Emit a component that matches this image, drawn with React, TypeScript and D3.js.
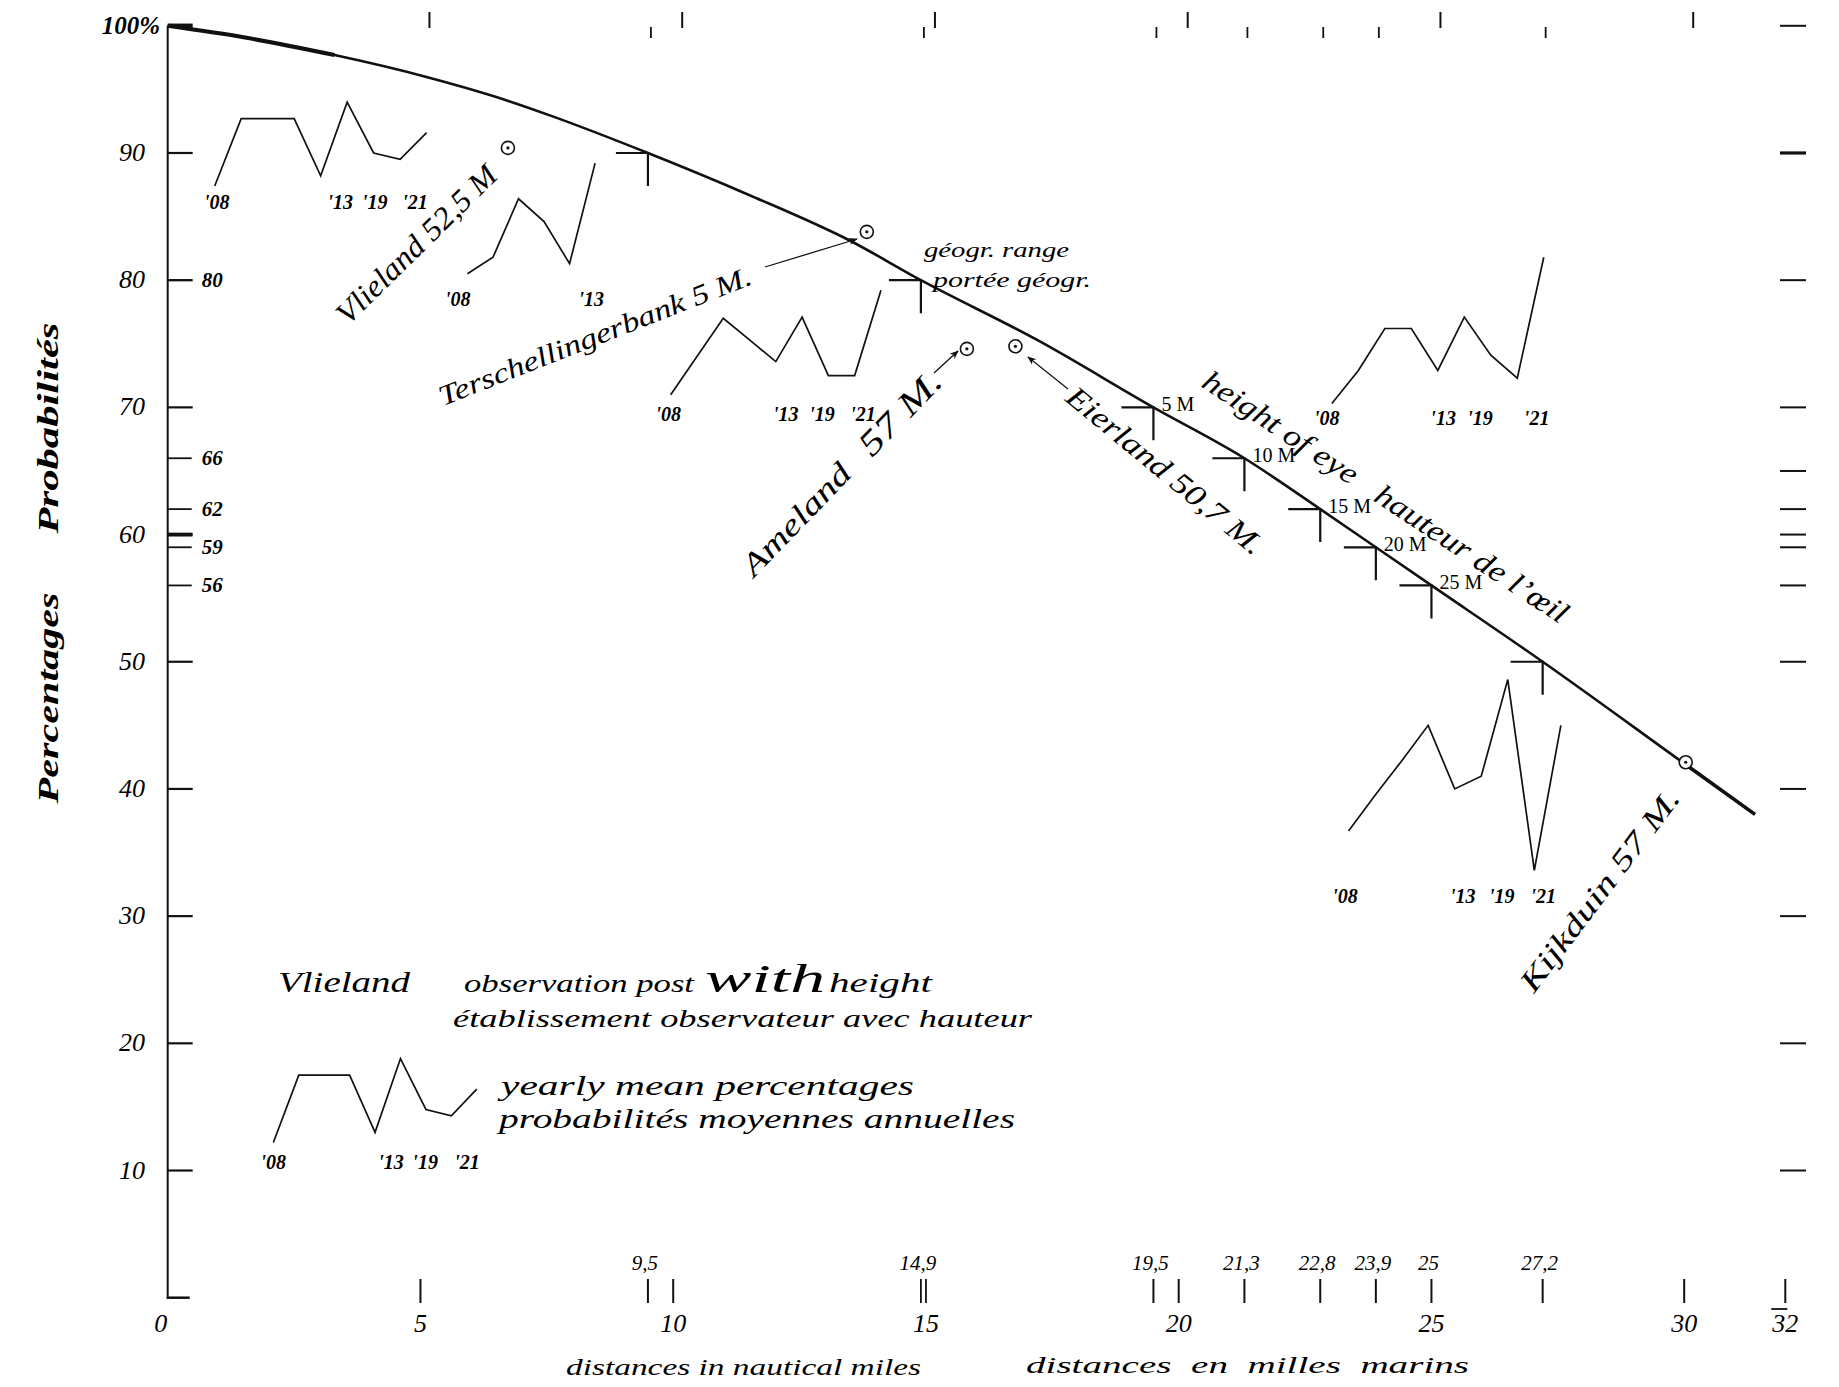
import React from 'react';
import * as d3 from 'd3';

const W = 1839;
const H = 1387;

// ---- main probability curve (distance in nautical miles -> percentage) ----
const curveDistances = [0, 1.5, 3.3, 5.1, 6.5, 7.6, 9.5, 11.5, 13.5, 14.9, 17.2, 19.5, 21.3, 22.8, 23.9, 25, 27.2, 30, 31.4];
const curvePercents = [100, 99.1, 97.7, 96.0, 94.4, 92.9, 90, 86.7, 83.1, 80, 75.3, 70, 66, 62, 59, 56, 50, 42, 38];

// ---- range markers on the curve (height of eye) ----
const markerDistances = [9.5, 14.9, 19.5, 21.3, 22.8, 23.9, 25, 27.2];
const markerPercents = [90, 80, 70, 66, 62, 59, 56, 50];
const markerLabels = ['', '', '5 M', '10 M', '15 M', '20 M', '25 M', ''];

// ---- stations (observation posts) ----
const stationDistances = [6.73, 13.83, 15.81, 16.77, 30.03];
const stationPercents = [90.4, 83.8, 74.6, 74.8, 42.1];

// ---- yearly mean percentages ----
const yearLabels = ["'08", "'13", "'19", "'21"];
const vlielandMeans = [87.4, 92.7, 92.7, 92.7, 88.2, 94.0, 90.0, 89.5, 91.6];
const terschellingerbankMeans = [80.5, 81.8, 86.4, 84.6, 81.3, 89.2];
const amelandMeans = [71.0, 74.0, 77.0, 75.3, 73.6, 77.1, 72.5, 72.5, 79.2];
const eierlandMeans = [70.3, 72.9, 76.2, 76.2, 72.9, 77.1, 74.1, 72.3, 81.8];
const kijkduinMeans = [36.7, 39.5, 42.2, 45.0, 40.0, 41.0, 48.6, 33.6, 45.0];

// ---- axis ticks ----
const yMajorTicks = [10, 20, 30, 40, 50, 60, 70, 80, 90];
const yMinorTicks = [80, 66, 62, 60, 59, 56];
const yMinorLabels = ['80', '66', '62', '', '59', '56'];
const rightTicks = [100, 90, 80, 70, 65, 62, 60, 59, 56, 50, 40, 30, 20, 10];
const xMajorTicks = [0, 5, 10, 15, 20, 25, 30, 32];
const xMajorLabels = ['0', '5', '10', '15', '20', '25', '30', '32'];
const xMinorTicks = [9.5, 14.9, 19.5, 21.3, 22.8, 23.9, 25, 27.2];
const xMinorLabels = ['9,5', '14,9', '19,5', '21,3', '22,8', '23,9', '25', '27,2'];
const bottomTickValues = [5, 9.5, 10, 14.9, 15, 19.5, 20, 21.3, 22.8, 23.9, 25, 27.2, 30, 32];
const topTallTicks = [5, 10, 15, 20, 25, 30];
const topShortTicks = [9.5, 14.9, 19.5, 21.3, 22.8, 23.9, 27.2];

const SERIF = "'Liberation Serif', 'DejaVu Serif', serif";
const NB = '\u00a0';

export default function App() {
  const x = d3.scaleLinear().domain([0, 32]).range([167.7, 1785.3]);
  const y = d3.scaleLinear().domain([0, 100]).range([1297.7, 25.8]);

  const pts: [number, number][] = curveDistances.map((d, i) => [d, curvePercents[i]]);
  const line = d3.line<[number, number]>().x(d => x(d[0])).y(d => y(d[1])).curve(d3.curveMonotoneX);
  const headPts = pts.filter(p => p[0] <= 3.3);
  const tailPts = pts.filter(p => p[0] >= 30);

  const sparks = [
    { values: vlielandMeans, start: 0.93, step: 0.524, shift: 0, labelPct: 85.6, labels: yearLabels, labelIdx: [0.08, 4.74, 6.04, 7.56] },
    { values: terschellingerbankMeans, start: 5.93, step: 0.505, shift: 0, labelPct: 78.0, labels: ["'08", "'13"], labelIdx: [-0.38, 4.85] },
    { values: amelandMeans, start: 9.95, step: 0.52, shift: 0, labelPct: 68.9, labels: yearLabels, labelIdx: [-0.09, 4.38, 5.76, 7.32] },
    { values: eierlandMeans, start: 23.03, step: 0.524, shift: 0, labelPct: 68.6, labels: yearLabels, labelIdx: [-0.19, 4.2, 5.59, 7.73] },
    { values: kijkduinMeans, start: 23.36, step: 0.525, shift: 0, labelPct: 31.0, labels: yearLabels, labelIdx: [-0.13, 4.3, 5.77, 7.34] },
    { values: vlielandMeans, start: 2.09, step: 0.503, shift: -75.2, labelPct: 10.1, labels: yearLabels, labelIdx: [0, 4.63, 5.97, 7.62] },
  ];

  const annotations = [
    { t: 'Vlieland 52,5 M', x: 348, y: 326, a: -44.5, s: 31, L: 212 },
    { t: 'Terschellingerbank 5 M.', x: 443, y: 406, a: -21.5, s: 28, L: 334 },
    { t: 'Ameland', x: 754, y: 578, a: -46, s: 31, L: 143 },
    { t: '57 M.', x: 872, y: 458, a: -46, s: 34, L: 104 },
    { t: 'Eierland 50,7 M.', x: 1064, y: 400, a: 39.5, s: 30, L: 246 },
    { t: `height of eye${NB}${NB}${NB}hauteur de l\u2019\u0153il`, x: 1200, y: 386, a: 33.5, s: 30, L: 432 },
    { t: 'Kijkduin 57 M.', x: 1534, y: 994, a: -53, s: 30, L: 245 },
  ];

  const arrows = [
    [765, 267, 857, 239],
    [934, 373, 958, 351],
    [1068, 389, 1028, 357],
  ];

  return (
    <div style={{ position: 'absolute', left: 0, top: 0, width: W, height: H, background: '#fff' }}>
      <svg width={W} height={H} viewBox={`0 0 ${W} ${H}`} style={{ display: 'block' }}>
        <defs>
          <marker id="arr" viewBox="0 0 10 10" refX="9" refY="5" markerWidth="9" markerHeight="9" orient="auto" markerUnits="userSpaceOnUse">
            <path d="M0,1 L10,5 L0,9 L3,5 Z" fill="#111" />
          </marker>
        </defs>
        <rect x={0} y={0} width={W} height={H} fill="#fff" />

        {/* left axis */}
        <line x1={x(0)} x2={x(0)} y1={y(100)} y2={y(0) + 1} stroke="#111" strokeWidth={2} />
        <line x1={x(0) - 1} x2={x(0) + 22} y1={y(0)} y2={y(0)} stroke="#111" strokeWidth={2.5} />
        <line x1={x(0)} x2={x(0) + 25} y1={y(100)} y2={y(100)} stroke="#111" strokeWidth={4.5} />
        {yMajorTicks.map(v => (
          <line key={'ym' + v} x1={x(0)} x2={x(0) + 25} y1={y(v)} y2={y(v)} stroke="#111" strokeWidth={v === 60 ? 3.5 : 2.2} />
        ))}
        {yMinorTicks.map(v => (
          <line key={'yn' + v} x1={x(0)} x2={x(0) + 24} y1={y(v)} y2={y(v)} stroke="#111" strokeWidth={v === 60 ? 3.5 : 1.8} />
        ))}
        <text x={160} y={y(100) + 8} textAnchor="end" fontFamily={SERIF} fontStyle="italic" fontWeight="bold" fontSize={25}>100%</text>
        {yMajorTicks.map(v => (
          <text key={'yl' + v} x={145} y={y(v) + 8} textAnchor="end" fontFamily={SERIF} fontStyle="italic" fontSize={26}>{v}</text>
        ))}
        {yMinorTicks.map((v, i) => yMinorLabels[i] ? (
          <text key={'ynl' + v} x={x(0) + 34} y={y(v) + 7} fontFamily={SERIF} fontStyle="italic" fontWeight="bold" fontSize={21}>{yMinorLabels[i]}</text>
        ) : null)}

        {/* axis titles */}
        <text transform={`translate(58,${428}) rotate(-90)`} textAnchor="middle" fontFamily={SERIF} fontStyle="italic" fontWeight="bold" fontSize={30} textLength={211} lengthAdjust="spacingAndGlyphs">Probabilités</text>
        <text transform={`translate(58,${698}) rotate(-90)`} textAnchor="middle" fontFamily={SERIF} fontStyle="italic" fontWeight="bold" fontSize={30} textLength={211} lengthAdjust="spacingAndGlyphs">Percentages</text>

        {/* right margin ticks */}
        {rightTicks.map(v => (
          <line key={'rt' + v} x1={1780} x2={1806} y1={y(v)} y2={y(v)} stroke="#111" strokeWidth={v === 90 ? 3.2 : 2} />
        ))}

        {/* top ticks */}
        {topTallTicks.map(v => (
          <line key={'tt' + v} x1={x(v) + 9} x2={x(v) + 9} y1={12} y2={28} stroke="#111" strokeWidth={2} />
        ))}
        {topShortTicks.map(v => (
          <line key={'ts' + v} x1={x(v) + 3} x2={x(v) + 3} y1={27} y2={38} stroke="#111" strokeWidth={1.8} />
        ))}

        {/* bottom ticks and labels */}
        {bottomTickValues.map(v => (
          <line key={'bt' + v} x1={x(v)} x2={x(v)} y1={1279} y2={1303} stroke="#111" strokeWidth={v === 14.9 || v === 15 ? 1.8 : 2} />
        ))}
        <line x1={x(32) - 14} x2={x(32) + 2} y1={1309} y2={1309} stroke="#111" strokeWidth={1.8} />
        {xMajorTicks.map((v, i) => (
          <text key={'xl' + v} x={x(v) - (v === 0 ? 7 : 0)} y={1332} textAnchor="middle" fontFamily={SERIF} fontStyle="italic" fontSize={26}>{xMajorLabels[i]}</text>
        ))}
        {xMinorTicks.map((v, i) => (
          <text key={'xm' + v} x={x(v) - 3} y={1270} textAnchor="middle" fontFamily={SERIF} fontStyle="italic" fontSize={21}>{xMinorLabels[i]}</text>
        ))}
        <text x={566} y={1375} fontFamily={SERIF} fontStyle="italic" fontSize={24} textLength={355} lengthAdjust="spacingAndGlyphs">distances in nautical miles</text>
        <text x={1026} y={1373} fontFamily={SERIF} fontStyle="italic" fontSize={24} textLength={443} lengthAdjust="spacingAndGlyphs">{`distances${NB}${NB}en${NB}${NB}milles${NB}${NB}marins`}</text>

        {/* main curve */}
        <path d={line(pts) || ''} fill="none" stroke="#111" strokeWidth={2.6} />
        <path d={line(headPts) || ''} fill="none" stroke="#111" strokeWidth={4} />
        <path d={line(tailPts) || ''} fill="none" stroke="#111" strokeWidth={3.6} />

        {/* range markers */}
        {markerDistances.map((d, i) => {
          const px = x(d);
          const py = y(markerPercents[i]);
          return (
            <g key={'mk' + d}>
              <path d={`M${px - 32},${py} H${px} V${py + 33}`} fill="none" stroke="#111" strokeWidth={2.2} />
              {markerLabels[i] ? (
                <text x={px + 8} y={py + 4} fontFamily={SERIF} fontSize={20}>{markerLabels[i]}</text>
              ) : null}
            </g>
          );
        })}

        {/* stations */}
        {stationDistances.map((d, i) => (
          <g key={'st' + i}>
            <circle cx={x(d)} cy={y(stationPercents[i])} r={6.5} fill="#fff" stroke="#111" strokeWidth={1.6} />
            <circle cx={x(d)} cy={y(stationPercents[i])} r={1.6} fill="#111" />
          </g>
        ))}

        {/* arrows */}
        {arrows.map((a, i) => (
          <line key={'ar' + i} x1={a[0]} y1={a[1]} x2={a[2]} y2={a[3]} stroke="#111" strokeWidth={1.3} markerEnd="url(#arr)" />
        ))}

        {/* sparklines of yearly means */}
        {sparks.map((s, k) => {
          const sl = d3.line<number>()
            .x((_, i) => x(s.start + i * s.step))
            .y(v => y(v + s.shift));
          return (
            <g key={'sp' + k}>
              <path d={sl(s.values) || ''} fill="none" stroke="#111" strokeWidth={1.7} strokeLinejoin="miter" />
              {s.labels.map((lb, j) => (
                <text key={lb} x={x(s.start + s.labelIdx[j] * s.step)} y={y(s.labelPct)} textAnchor="middle"
                  fontFamily={SERIF} fontStyle="italic" fontWeight="bold" fontSize={20}>{lb}</text>
              ))}
            </g>
          );
        })}

        {/* rotated annotations */}
        {annotations.map((a, i) => (
          <text key={'an' + i} transform={`translate(${a.x},${a.y}) rotate(${a.a})`} fontFamily={SERIF} fontStyle="italic"
            fontSize={a.s} textLength={a.L} lengthAdjust="spacingAndGlyphs">{a.t}</text>
        ))}

        <text x={924} y={257} fontFamily={SERIF} fontStyle="italic" fontSize={22} textLength={145} lengthAdjust="spacingAndGlyphs">géogr. range</text>
        <text x={933} y={287} fontFamily={SERIF} fontStyle="italic" fontSize={22} textLength={158} lengthAdjust="spacingAndGlyphs">portée géogr.</text>

        {/* legend */}
        <text x={278} y={992} fontFamily={SERIF} fontStyle="italic" fontSize={30} textLength={132} lengthAdjust="spacingAndGlyphs">Vlieland</text>
        <text x={464} y={992} fontFamily={SERIF} fontStyle="italic" fontSize={25} textLength={230} lengthAdjust="spacingAndGlyphs">observation post</text>
        <text x={705} y={992} fontFamily={SERIF} fontStyle="italic" fontSize={40} textLength={120} lengthAdjust="spacingAndGlyphs">with</text>
        <text x={829} y={992} fontFamily={SERIF} fontStyle="italic" fontSize={27} textLength={103} lengthAdjust="spacingAndGlyphs">height</text>
        <text x={453} y={1027} fontFamily={SERIF} fontStyle="italic" fontSize={25} textLength={579} lengthAdjust="spacingAndGlyphs">établissement observateur avec hauteur</text>
        <text x={501} y={1095} fontFamily={SERIF} fontStyle="italic" fontSize={28} textLength={413} lengthAdjust="spacingAndGlyphs">yearly mean percentages</text>
        <text x={499} y={1128} fontFamily={SERIF} fontStyle="italic" fontSize={28} textLength={516} lengthAdjust="spacingAndGlyphs">probabilités moyennes annuelles</text>
      </svg>
    </div>
  );
}
